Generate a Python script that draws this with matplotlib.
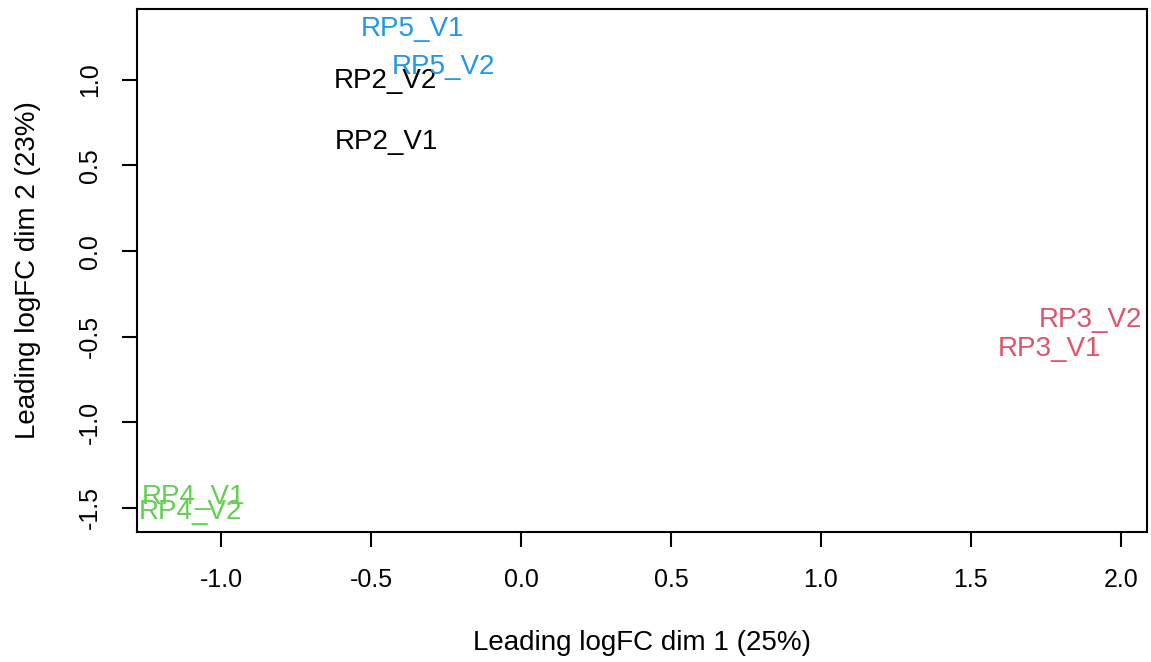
import matplotlib
matplotlib.use("Agg")
from matplotlib import pyplot as plt

labels = ["RP2_V1", "RP2_V2", "RP3_V1", "RP3_V2", "RP4_V1", "RP4_V2", "RP5_V1", "RP5_V2"]
dim1 = [-0.447, -0.453, 1.763, 1.897, -1.093, -1.103, -0.36, -0.26]
dim2 = [0.637, 0.993, -0.572, -0.403, -1.437, -1.525, 1.30, 1.075]
colors = ["#000000", "#000000", "#DF536B", "#DF536B", "#61D04F", "#61D04F", "#2297E6", "#2297E6"]
xticks = [-1.0, -0.5, 0.0, 0.5, 1.0, 1.5, 2.0]
yticks = [-1.5, -1.0, -0.5, 0.0, 0.5, 1.0]

plt.rcParams['font.family'] = ['Liberation Sans', 'DejaVu Sans']

fig = plt.figure(figsize=(11.51, 6.62), dpi=100)
ax = fig.add_axes([137 / 1151, 1 - 532 / 662, (1147 - 137) / 1151, (532 - 9) / 662])

for lab, x, y, c in zip(labels, dim1, dim2, colors):
    ax.text(x, y, lab, color=c, fontsize=20, ha='center', va='center')

ax.set_xlim(-1.28, 2.087)
ax.set_ylim(-1.641, 1.414)
ax.set_xticks(xticks)
ax.set_xticklabels(["%.1f" % v for v in xticks])
ax.set_yticks(yticks)
ax.set_yticklabels(["%.1f" % v for v in yticks], rotation=90, va='center')
ax.tick_params(labelsize=18, length=11, width=1.5)
ax.tick_params(axis='x', pad=15)
ax.tick_params(axis='y', pad=14)
for s in ax.spines.values():
    s.set_linewidth(1.5)

ax.set_xlabel("Leading logFC dim 1 (25%)", fontsize=20, labelpad=27)
ax.set_ylabel("Leading logFC dim 2 (23%)", fontsize=20, labelpad=27)

fig.savefig("out.png", dpi=100)
